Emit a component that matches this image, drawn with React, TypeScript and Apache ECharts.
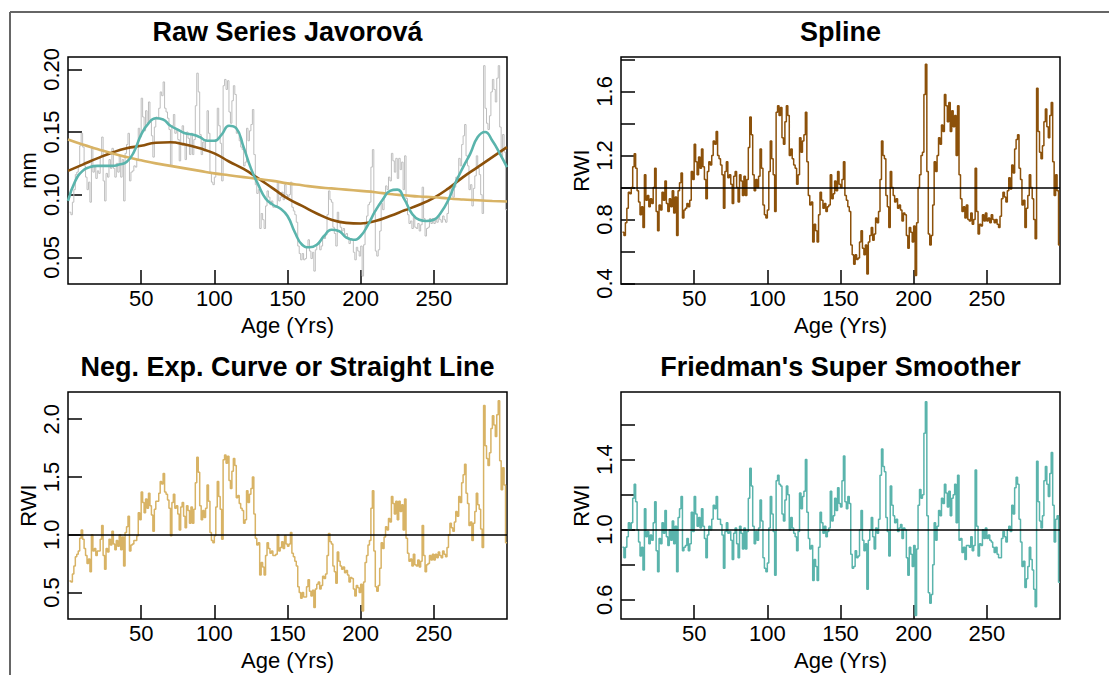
import { useEffect, useRef } from "react";
import * as echarts from "echarts";

// ---- data ----
const ages = Array.from({ length: 300 }, (_, i) => i + 1);

const rawWidth = [
  0.086,0.084,0.094,0.104,0.116,0.118,0.123,0.139,0.149,0.138,
  0.123,0.114,0.104,0.110,0.094,0.138,0.118,0.122,0.113,0.119,
  0.117,0.130,0.146,0.111,0.095,0.117,0.114,0.128,0.121,0.137,
  0.121,0.114,0.125,0.118,0.131,0.114,0.128,0.095,0.133,0.140,
  0.149,0.111,0.118,0.119,0.123,0.122,0.128,0.153,0.146,0.177,
  0.162,0.151,0.167,0.157,0.174,0.158,0.147,0.130,0.154,0.162,
  0.161,0.169,0.182,0.179,0.190,0.169,0.166,0.161,0.152,0.123,
  0.155,0.164,0.149,0.152,0.144,0.127,0.151,0.155,0.141,0.128,
  0.150,0.145,0.132,0.149,0.132,0.144,0.171,0.197,0.182,0.148,
  0.132,0.142,0.135,0.144,0.167,0.149,0.118,0.110,0.108,0.114,
  0.144,0.169,0.155,0.141,0.111,0.187,0.192,0.184,0.191,0.166,
  0.157,0.175,0.187,0.180,0.149,0.150,0.143,0.138,0.136,0.123,
  0.126,0.153,0.143,0.151,0.156,0.168,0.132,0.108,0.101,0.104,
  0.073,0.085,0.080,0.073,0.091,0.103,0.098,0.092,0.095,0.090,
  0.090,0.091,0.110,0.095,0.098,0.102,0.096,0.108,0.100,0.098,
  0.100,0.110,0.090,0.087,0.084,0.078,0.059,0.053,0.048,0.053,
  0.048,0.049,0.058,0.064,0.055,0.049,0.054,0.039,0.056,0.060,
  0.062,0.056,0.059,0.067,0.065,0.068,0.084,0.103,0.096,0.094,
  0.074,0.069,0.059,0.086,0.078,0.074,0.071,0.073,0.068,0.069,
  0.066,0.061,0.065,0.064,0.054,0.048,0.058,0.055,0.051,0.059,
  0.035,0.060,0.077,0.083,0.092,0.094,0.122,0.136,0.085,0.055,
  0.051,0.056,0.071,0.093,0.088,0.098,0.107,0.104,0.114,0.111,
  0.133,0.127,0.118,0.129,0.113,0.129,0.120,0.126,0.104,0.131,
  0.097,0.084,0.077,0.079,0.073,0.082,0.074,0.073,0.077,0.071,
  0.076,0.106,0.081,0.067,0.073,0.074,0.081,0.077,0.081,0.077,
  0.081,0.078,0.083,0.080,0.078,0.083,0.080,0.078,0.085,0.097,
  0.105,0.102,0.098,0.106,0.114,0.112,0.129,0.123,0.140,0.147,
  0.156,0.131,0.123,0.104,0.108,0.091,0.105,0.115,0.131,0.121,
  0.116,0.100,0.085,0.203,0.169,0.157,0.152,0.163,0.182,0.192,
  0.184,0.174,0.193,0.203,0.154,0.130,0.148,0.134,0.088,0.088,
];

const splineRwi = [
  0.72,0.70,0.78,0.87,0.97,0.96,1.00,1.13,1.21,1.12,
  0.98,0.91,0.83,0.88,0.75,1.08,0.92,0.95,0.88,0.93,
  0.90,1.00,1.12,0.85,0.73,0.89,0.86,0.97,0.92,1.04,
  0.90,0.85,0.93,0.88,0.98,0.84,0.94,0.70,0.98,1.03,
  1.09,0.81,0.86,0.87,0.90,0.88,0.92,1.10,1.05,1.27,
  1.16,1.08,1.19,1.12,1.24,1.13,1.05,0.93,1.10,1.16,
  1.14,1.20,1.29,1.27,1.35,1.20,1.18,1.14,1.08,0.87,
  1.10,1.16,1.06,1.08,1.02,0.90,1.07,1.10,1.00,0.91,
  1.08,1.04,0.95,1.07,0.95,1.05,1.25,1.44,1.33,1.08,
  0.98,1.05,1.00,1.07,1.24,1.12,0.89,0.83,0.81,0.86,
  1.10,1.29,1.18,1.08,0.85,1.47,1.51,1.45,1.50,1.31,
  1.27,1.41,1.51,1.45,1.20,1.24,1.18,1.14,1.12,1.02,
  1.08,1.31,1.22,1.29,1.33,1.47,1.16,0.95,0.89,0.91,
  0.66,0.77,0.73,0.66,0.83,0.97,0.92,0.87,0.90,0.85,
  0.88,0.89,1.08,0.93,0.96,1.04,0.98,1.10,1.02,1.00,
  1.05,1.16,0.95,0.92,0.88,0.85,0.64,0.58,0.52,0.58,
  0.55,0.56,0.66,0.73,0.62,0.58,0.64,0.46,0.66,0.70,
  0.75,0.67,0.71,0.81,0.78,0.85,1.05,1.29,1.20,1.18,
  0.95,0.88,0.75,1.10,1.00,0.95,0.91,0.93,0.87,0.89,
  0.86,0.79,0.84,0.83,0.70,0.62,0.75,0.72,0.66,0.76,
  0.45,0.78,1.00,1.08,1.20,1.22,1.58,1.77,1.10,0.71,
  0.64,0.70,0.89,1.16,1.10,1.20,1.31,1.27,1.39,1.35,
  1.58,1.51,1.41,1.53,1.35,1.48,1.38,1.45,1.20,1.51,
  1.08,0.93,0.85,0.88,0.81,0.89,0.80,0.79,0.84,0.77,
  0.80,1.12,0.85,0.71,0.77,0.76,0.83,0.79,0.84,0.79,
  0.81,0.78,0.83,0.80,0.78,0.80,0.77,0.75,0.82,0.93,
  0.97,0.94,0.91,0.98,1.06,0.99,1.14,1.09,1.24,1.30,
  1.33,1.12,1.05,0.89,0.92,0.75,0.87,0.95,1.08,1.00,
  0.93,0.80,0.68,1.62,1.35,1.22,1.18,1.26,1.41,1.49,
  1.38,1.31,1.45,1.53,1.16,0.95,1.08,0.98,0.64,0.64,
];

const negExpRwi = [
  0.60,0.59,0.66,0.73,0.81,0.83,0.86,0.97,1.04,0.96,
  0.88,0.82,0.75,0.79,0.68,1.00,0.86,0.88,0.82,0.86,
  0.86,0.96,1.08,0.82,0.70,0.88,0.85,0.96,0.91,1.03,
  0.92,0.87,0.95,0.90,1.00,0.87,0.98,0.73,1.02,1.07,
  1.16,0.86,0.91,0.92,0.95,0.95,0.99,1.19,1.13,1.37,
  1.28,1.19,1.31,1.23,1.36,1.25,1.17,1.03,1.22,1.29,
  1.29,1.36,1.46,1.44,1.53,1.37,1.35,1.30,1.23,0.99,
  1.28,1.35,1.23,1.25,1.18,1.04,1.24,1.28,1.16,1.06,
  1.25,1.21,1.10,1.24,1.10,1.22,1.45,1.67,1.54,1.25,
  1.13,1.21,1.15,1.23,1.43,1.29,1.02,0.95,0.93,0.99,
  1.24,1.46,1.33,1.22,0.96,1.65,1.69,1.62,1.68,1.47,
  1.40,1.55,1.66,1.60,1.32,1.34,1.27,1.23,1.21,1.10,
  1.13,1.38,1.28,1.35,1.40,1.50,1.18,0.97,0.91,0.93,
  0.65,0.76,0.72,0.65,0.82,0.93,0.88,0.84,0.86,0.82,
  0.82,0.83,1.00,0.86,0.89,0.94,0.88,0.99,0.92,0.90,
  0.92,1.02,0.84,0.81,0.77,0.73,0.55,0.50,0.45,0.50,
  0.46,0.46,0.55,0.61,0.51,0.47,0.52,0.37,0.53,0.57,
  0.59,0.53,0.56,0.64,0.62,0.66,0.82,1.01,0.94,0.92,
  0.73,0.68,0.58,0.85,0.77,0.73,0.70,0.72,0.67,0.69,
  0.65,0.59,0.63,0.62,0.53,0.47,0.56,0.54,0.50,0.57,
  0.34,0.59,0.76,0.82,0.91,0.95,1.23,1.38,0.86,0.55,
  0.51,0.56,0.71,0.93,0.88,0.98,1.07,1.04,1.14,1.11,
  1.33,1.27,1.18,1.29,1.13,1.29,1.20,1.26,1.04,1.31,
  0.97,0.84,0.77,0.79,0.73,0.83,0.74,0.73,0.78,0.72,
  0.77,1.08,0.82,0.68,0.74,0.75,0.82,0.78,0.83,0.78,
  0.83,0.80,0.85,0.82,0.80,0.86,0.83,0.81,0.89,1.00,
  1.10,1.06,1.03,1.11,1.20,1.16,1.33,1.28,1.45,1.52,
  1.61,1.36,1.27,1.08,1.11,0.95,1.10,1.20,1.36,1.26,
  1.22,1.05,0.89,2.12,1.77,1.66,1.60,1.71,1.92,2.03,
  1.95,1.85,2.04,2.16,1.64,1.39,1.58,1.43,0.93,0.93,
];

const friedmanRwi = [
  0.90,0.84,0.90,0.96,1.04,1.00,1.04,1.18,1.26,1.16,
  1.00,0.93,0.85,0.90,0.77,1.12,0.96,0.99,0.92,0.97,
  0.94,1.04,1.16,0.88,0.76,0.95,0.92,1.04,0.98,1.11,
  0.96,0.91,1.00,0.94,1.05,0.92,1.02,0.76,1.07,1.12,
  1.19,0.88,0.90,0.91,0.95,0.88,0.92,1.10,0.99,1.19,
  1.09,1.02,1.07,1.01,1.12,1.02,0.95,0.84,0.97,1.02,
  1.00,1.06,1.14,1.12,1.19,1.06,1.06,1.03,0.97,0.78,
  0.99,1.04,0.98,0.99,0.94,0.83,0.98,1.01,0.92,0.84,
  1.02,0.98,0.89,1.01,0.89,0.99,1.18,1.35,1.25,1.02,
  0.92,0.99,0.94,1.01,1.17,1.05,0.84,0.78,0.76,0.81,
  1.01,1.19,1.09,0.99,0.74,1.28,1.31,1.26,1.25,1.09,
  1.05,1.17,1.25,1.20,1.00,1.07,1.01,0.98,0.96,0.88,
  0.99,1.21,1.12,1.19,1.22,1.40,1.10,0.95,0.89,0.91,
  0.71,0.83,0.79,0.71,0.90,1.10,1.04,0.98,1.02,0.96,
  0.99,1.01,1.22,1.05,1.08,1.18,1.11,1.24,1.15,1.13,
  1.28,1.42,1.16,1.12,1.19,1.15,0.86,0.78,0.79,0.88,
  0.84,0.85,1.00,1.11,0.94,0.88,0.92,0.66,0.94,1.00,
  1.07,0.96,0.89,1.01,0.98,1.06,1.31,1.46,1.36,1.33,
  1.07,0.99,0.85,1.25,1.14,1.08,1.04,1.06,0.99,1.01,
  1.03,0.95,1.01,1.00,0.84,0.74,0.90,0.86,0.79,0.91,
  0.51,0.89,1.14,1.23,1.18,1.20,1.55,1.73,1.08,0.64,
  0.58,0.63,0.80,1.04,0.94,1.02,1.11,1.08,1.18,1.15,
  1.26,1.21,1.13,1.22,1.08,1.18,1.20,1.26,1.04,1.31,
  0.94,0.95,0.87,0.90,0.83,0.91,0.91,0.90,0.96,0.88,
  0.91,1.34,1.02,0.85,0.92,0.91,1.00,0.95,1.01,0.95,
  0.97,0.94,0.93,0.90,0.87,0.90,0.86,0.84,0.84,0.95,
  0.99,0.96,0.93,1.00,1.02,0.99,1.14,1.09,1.24,1.30,
  1.26,1.06,0.93,0.79,0.82,0.67,0.72,0.79,0.90,0.83,
  0.77,0.66,0.56,1.39,1.16,1.05,1.01,1.08,1.28,1.36,
  1.26,1.19,1.32,1.44,1.14,0.93,1.06,1.08,0.70,0.70,
];

const curveAges = [0,10,20,30,40,50,60,70,80,90,100,110,120,130,140,150,160,170,180,190,200,210,220,230,240,250,260,270,280,290,300];
const splineCurve = [0.119,0.124,0.129,0.1335,0.137,0.139,0.1415,0.1418,0.140,0.137,0.133,0.1265,0.1205,0.113,0.105,0.097,0.091,0.085,0.080,0.0775,0.077,0.079,0.083,0.0875,0.092,0.0975,0.105,0.114,0.122,0.130,0.138];
const negExpCurve = [0.144,0.140,0.1365,0.133,0.130,0.1274,0.125,0.123,0.121,0.119,0.117,0.1155,0.114,0.1125,0.111,0.109,0.1075,0.106,0.105,0.104,0.103,0.102,0.1005,0.0995,0.0985,0.098,0.097,0.0962,0.0955,0.095,0.0945];

const friedmanAges = [0,5,10,15,20,25,30,35,40,45,50,55,60,65,70,75,80,85,90,95,100,105,110,115,120,125,130,135,140,145,150,155,160,165,170,175,180,185,190,195,200,205,210,215,220,225,230,235,240,245,250,255,260,265,270,275,280,285,290,295,300];
const friedmanCurve = [0.095,0.111,0.119,0.122,0.123,0.123,0.123,0.124,0.126,0.134,0.148,0.157,0.161,0.160,0.155,0.152,0.149,0.148,0.146,0.143,0.143,0.148,0.155,0.153,0.138,0.121,0.108,0.097,0.092,0.089,0.083,0.070,0.060,0.058,0.060,0.067,0.072,0.071,0.066,0.064,0.067,0.076,0.087,0.096,0.103,0.104,0.096,0.085,0.080,0.079,0.080,0.086,0.096,0.110,0.122,0.133,0.146,0.150,0.143,0.133,0.122];

const panelTitles = ["Raw Series Javorová", "Spline", "Neg. Exp. Curve or Straight Line", "Friedman's Super Smoother"];
const yNames = ["mm", "RWI", "RWI", "RWI"];
const xTicks = [50, 100, 150, 200, 250];
const yTickSets = [
  [0.05, 0.1, 0.15, 0.2],
  [0.4, 0.6, 0.8, 1.0, 1.2, 1.4, 1.6, 1.8],
  [0.5, 1.0, 1.5, 2.0],
  [0.6, 0.8, 1.0, 1.2, 1.4, 1.6],
];
const yLabelSets = [
  [0.05, 0.1, 0.15, 0.2],
  [0.4, 0.8, 1.2, 1.6],
  [0.5, 1.0, 1.5, 2.0],
  [0.6, 1.0, 1.4],
];
const yRanges = [
  [0.0287, 0.2099],
  [0.397, 1.815],
  [0.27, 2.236],
  [0.49, 1.786],
];
const yDecimals = [2, 1, 1, 1];

// ---- styling ----
const FONT = "'Liberation Sans', Arial, Helvetica, sans-serif";
const BROWN = "#8C510A";
const TAN = "#D8B365";
const TEAL = "#5AB4AC";
const GRAY = "#BEBEBE";
const grids = [
  { left: 68, top: 57, width: 439, height: 227 },
  { left: 621, top: 57, width: 439, height: 227 },
  { left: 68, top: 392, width: 439, height: 227 },
  { left: 621, top: 392, width: 439, height: 227 },
];

const pairs = (xs: number[], ys: number[]) => xs.map((x, i) => [x, ys[i]]);

export default function App() {
  const ref = useRef<HTMLDivElement>(null);
  useEffect(() => {
    if (!ref.current) return;
    const chart = echarts.init(ref.current, undefined, { renderer: "svg" });

    const xAxis = grids.map((_, i) => ({
      type: "value",
      gridIndex: i,
      min: 0,
      max: 300,
      name: "Age (Yrs)",
      nameLocation: "middle",
      nameGap: 30,
      nameTextStyle: { fontSize: 22, color: "#000", fontFamily: FONT },
      axisLine: { show: false },
      axisTick: { show: true, inside: true, length: 14, customValues: xTicks, lineStyle: { color: "#000", width: 1.5 } },
      axisLabel: { show: true, customValues: xTicks, fontSize: 22, color: "#000", margin: 3, fontFamily: FONT },
      splitLine: { show: false },
    }));

    const yAxis = grids.map((_, i) => ({
      type: "value",
      gridIndex: i,
      min: yRanges[i][0],
      max: yRanges[i][1],
      name: yNames[i],
      nameLocation: "middle",
      nameGap: 29,
      nameRotate: 90,
      nameTextStyle: { fontSize: 22, color: "#000", fontFamily: FONT },
      axisLine: { show: false },
      axisTick: { show: true, inside: true, length: 14, customValues: yTickSets[i], lineStyle: { color: "#000", width: 1.5 } },
      axisLabel: {
        show: true,
        customValues: yLabelSets[i],
        rotate: 90,
        fontSize: 22,
        color: "#000",
        margin: 6,
        fontFamily: FONT,
        formatter: (v: number) => v.toFixed(yDecimals[i]),
      },
      splitLine: { show: false },
    }));

    const refLine = {
      silent: true,
      symbol: ["none", "none"],
      label: { show: false },
      lineStyle: { color: "#000", width: 1.5, type: "solid" },
      data: [{ yAxis: 1 }],
      animation: false,
    };

    const series: any[] = [
      { type: "line", xAxisIndex: 0, yAxisIndex: 0, data: pairs(ages, rawWidth), step: "end", showSymbol: false, lineStyle: { color: GRAY, width: 1 }, itemStyle: { color: GRAY } },
      { type: "line", xAxisIndex: 0, yAxisIndex: 0, data: pairs(curveAges, splineCurve), smooth: true, showSymbol: false, lineStyle: { color: BROWN, width: 2.6 }, itemStyle: { color: BROWN } },
      { type: "line", xAxisIndex: 0, yAxisIndex: 0, data: pairs(curveAges, negExpCurve), smooth: true, showSymbol: false, lineStyle: { color: TAN, width: 2.6 }, itemStyle: { color: TAN } },
      { type: "line", xAxisIndex: 0, yAxisIndex: 0, data: pairs(friedmanAges, friedmanCurve), smooth: true, showSymbol: false, lineStyle: { color: TEAL, width: 2.6 }, itemStyle: { color: TEAL } },
      { type: "line", xAxisIndex: 1, yAxisIndex: 1, data: pairs(ages, splineRwi), step: "end", showSymbol: false, lineStyle: { color: BROWN, width: 1.5 }, itemStyle: { color: BROWN }, markLine: refLine },
      { type: "line", xAxisIndex: 2, yAxisIndex: 2, data: pairs(ages, negExpRwi), step: "end", showSymbol: false, lineStyle: { color: TAN, width: 1.5 }, itemStyle: { color: TAN }, markLine: refLine },
      { type: "line", xAxisIndex: 3, yAxisIndex: 3, data: pairs(ages, friedmanRwi), step: "end", showSymbol: false, lineStyle: { color: TEAL, width: 1.5 }, itemStyle: { color: TEAL }, markLine: refLine },
    ];

    chart.setOption({
      animation: false,
      backgroundColor: "#fff",
      textStyle: { fontFamily: FONT },
      title: panelTitles.map((t, i) => ({
        text: t,
        left: grids[i].left + grids[i].width / 2,
        top: i < 2 ? 18 : 353,
        textAlign: "center",
        padding: 0,
        textStyle: { fontSize: 27, fontWeight: "bold", color: "#000", fontFamily: FONT },
      })),
      grid: grids.map((g) => ({ ...g, show: true, borderColor: "#000", borderWidth: 1.5, backgroundColor: "transparent", containLabel: false })),
      xAxis,
      yAxis,
      series,
      graphic: [
        { type: "line", shape: { x1: 10, y1: 12, x2: 1109, y2: 12 }, style: { stroke: "#666", lineWidth: 2 } },
        { type: "line", shape: { x1: 10, y1: 12, x2: 10, y2: 675 }, style: { stroke: "#666", lineWidth: 2 } },
      ],
    });
    return () => chart.dispose();
  }, []);

  return (
    <div
      ref={ref}
      style={{ position: "absolute", left: 0, top: 0, width: 1109, height: 675, background: "#fff" }}
    />
  );
}
